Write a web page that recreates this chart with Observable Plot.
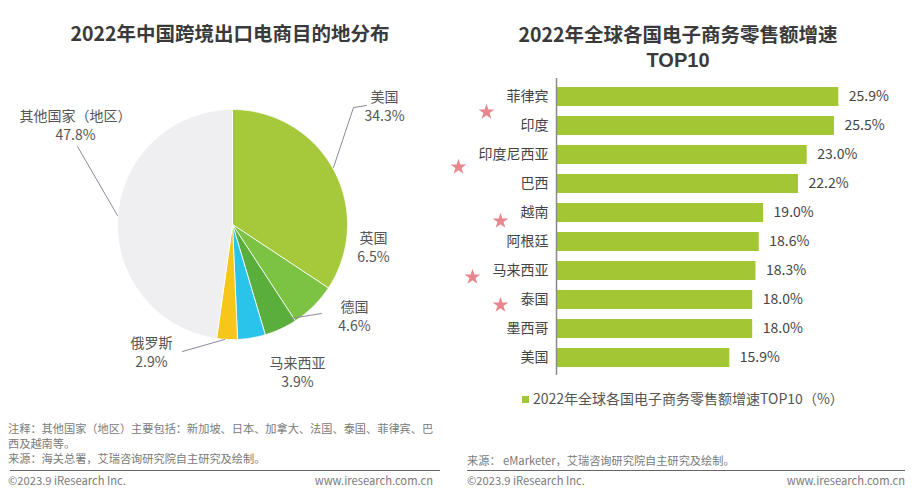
<!DOCTYPE html>
<html><head><meta charset="utf-8">
<script src="https://cdn.jsdelivr.net/npm/d3@7"></script>
<script src="https://cdn.jsdelivr.net/npm/@observablehq/plot@0.6"></script>
<style>
body{margin:0;background:#fff;font-family:"Noto Sans CJK SC","Noto Sans",sans-serif;}
#root{position:relative;width:915px;height:500px;overflow:hidden;background:#fff;}
.abs{position:absolute;}
.title{font-weight:bold;font-size:19.5px;color:#3a3a3a;text-align:center;line-height:22px;height:22px;white-space:nowrap;}
.foot{font-size:11.2px;color:#7a7a7a;line-height:15px;white-space:nowrap;}
.rule{height:1px;background:#666;}
</style></head><body>
<div id="root">
  <div class="abs title" style="left:30px;top:22px;width:400px;">2022年中国跨境出口电商目的地分布</div>
  <div class="abs title" style="left:478px;top:23px;width:400px;">2022年全球各国电子商务零售额增速</div>
  <div class="abs title" style="left:478px;top:49px;width:400px;font-family:'Liberation Sans',Arial,sans-serif;font-size:20px;">TOP10</div>
  <div id="pie" class="abs" style="left:0;top:80px;"></div>
  <div id="bar" class="abs" style="left:430px;top:70px;"></div>
  <div id="legend" class="abs" style="left:522px;top:389px;height:18px;line-height:18px;font-size:14px;color:#555;white-space:nowrap;"></div>
  <div class="abs foot" style="left:8px;top:421px;">注释：其他国家（地区）主要包括：新加坡、日本、加拿大、法国、泰国、菲律宾、巴<br>西及越南等。<br>来源：海关总署，艾瑞咨询研究院自主研究及绘制。</div>
  <div class="abs rule" style="left:10px;top:470px;width:430px;"></div>
  <div class="abs foot" style="left:8px;top:473px;">©2023.9 iResearch Inc.</div>
  <div class="abs foot" style="left:240px;top:473px;width:193px;text-align:right;">www.iresearch.com.cn</div>
  <div class="abs foot" style="left:467px;top:453px;">来源： eMarketer，艾瑞咨询研究院自主研究及绘制。</div>
  <div class="abs rule" style="left:467px;top:470px;width:438px;"></div>
  <div class="abs foot" style="left:467px;top:473px;">©2023.9 iResearch Inc.</div>
  <div class="abs foot" style="left:705px;top:473px;width:200px;text-align:right;">www.iresearch.com.cn</div>
</div>
<script>
// ---- Data ----
const pieNames = ["美国", "英国", "德国", "马来西亚", "俄罗斯", "其他国家（地区）"];
const pieValues = [34.3, 6.5, 4.6, 3.9, 2.9, 47.8];
const pieColors = ["#a5c93b", "#7cc243", "#5aae3b", "#2ac3ea", "#f6c61b", "#efeff1"];

const barNames = ["菲律宾", "印度", "印度尼西亚", "巴西", "越南", "阿根廷", "马来西亚", "泰国", "墨西哥", "美国"];
const barValues = [25.9, 25.5, 23.0, 22.2, 19.0, 18.6, 18.3, 18.0, 18.0, 15.9];
const starred = ["菲律宾", "印度尼西亚", "越南", "马来西亚", "泰国"];
const legendLabel = "2022年全球各国电子商务零售额增速TOP10（%）";

const FONT = '"Noto Sans CJK SC","Noto Sans",sans-serif';

// ---- Pie (left) ----
const R = 115, CX = 232, CY = 144, PW = 460, PH = 320;
const total = d3.sum(pieValues);
const slices = [];
const pts = [];
let acc = 0;
pieNames.forEach((name, i) => {
  const a0 = acc / total * 2 * Math.PI;
  acc += pieValues[i];
  const a1 = acc / total * 2 * Math.PI;
  slices.push({name, value: pieValues[i], a0, a1});
  pts.push({name, x: 0, y: 0});
  const n = Math.max(4, Math.ceil((a1 - a0) / (Math.PI / 360)));
  for (let k = 0; k <= n; k++) {
    const a = a0 + (a1 - a0) * k / n;
    pts.push({name, x: Math.sin(a), y: Math.cos(a)});
  }
  pts.push({name, x: 0, y: 0});
});

// label layout (pixel offsets from pie centre, converted to pie units)
const u = (px) => px / R;
const labelLayout = {
  "美国": {x: 152, y: 119, line: [[101, 57], [121, 117], [134, 119]]},
  "英国": {x: 141, y: -22},
  "德国": {x: 122, y: -91, line: [[58, -94], [89, -89]]},
  "马来西亚": {x: 65, y: -147},
  "俄罗斯": {x: -81, y: -127, line: [[-50, -127], [-8, -115]]},
  "其他国家（地区）": {x: -157, y: 100, line: [[-155, 78], [-115, 9]]}
};
const labels = slices.map(s => ({
  name: s.name,
  x: u(labelLayout[s.name].x),
  y: u(labelLayout[s.name].y),
  text: s.name + "\n" + s.value.toFixed(1) + "%"
}));
const leaders = [];
slices.forEach(s => {
  const L = labelLayout[s.name].line;
  if (L) L.forEach(([x, y]) => leaders.push({name: s.name, x: u(x), y: u(y)}));
});

const pie = Plot.plot({
  width: PW, height: PH,
  margin: 0,
  x: {domain: [-CX / R, (PW - CX) / R], axis: null},
  y: {domain: [-(PH - CY) / R, CY / R], axis: null},
  color: {domain: pieNames, range: pieColors},
  style: {fontFamily: FONT, background: "transparent"},
  marks: [
    Plot.line(pts, {x: "x", y: "y", z: "name", fill: "name", stroke: "#ffffff", strokeWidth: 0.8, strokeLinejoin: "round"}),
    Plot.line(leaders, {x: "x", y: "y", z: "name", stroke: "#8a8a9a", strokeWidth: 1}),
    Plot.text(labels, {x: "x", y: "y", text: "text", fontSize: 14, fill: "#555", lineHeight: 1.35, textAnchor: "middle"})
  ]
});
document.getElementById("pie").appendChild(pie);

// ---- Bars (right) ----
const bars = barNames.map((name, i) => ({name, value: barValues[i]}));
const starDy = {"菲律宾": 15, "印度尼西亚": 12, "越南": 8, "马来西亚": 6, "泰国": 5};
const starMarks = starred.map(name => Plot.dot([name], {
  x: () => 0, y: d => d, symbol: "star", r: 5, fill: "#e8868d", stroke: "none",
  dx: -(8 + 14 * name.length + 20), dy: starDy[name]
}));

const bar = Plot.plot({
  width: 485, height: 310,
  marginTop: 8, marginBottom: 5, marginLeft: 126, marginRight: 32,
  x: {domain: [0, 30], axis: null},
  y: {domain: barNames, paddingInner: 0.36, paddingOuter: 0.185, axis: null},
  style: {fontFamily: FONT, background: "transparent"},
  marks: [
    Plot.barX(bars, {x: "value", y: "name", fill: "#a3c732"}),
    Plot.ruleX([0], {stroke: "#8a8a8a", strokeWidth: 1.5}),
    Plot.axisY({tickSize: 0, tickPadding: 8, fontSize: 14, fill: "#444", label: null}),
    Plot.text(bars, {x: "value", y: "name", text: d => d.value.toFixed(1) + "%", dx: 10, textAnchor: "start", fill: "#444", fontSize: 14}),
    ...starMarks
  ]
});
document.getElementById("bar").appendChild(bar);

// ---- Legend ----
const lg = document.getElementById("legend");
lg.innerHTML = '<span style="display:inline-block;width:7px;height:7px;background:#a3c732;margin-right:4px;vertical-align:1px;"></span>' + legendLabel;
</script>
</body></html>
